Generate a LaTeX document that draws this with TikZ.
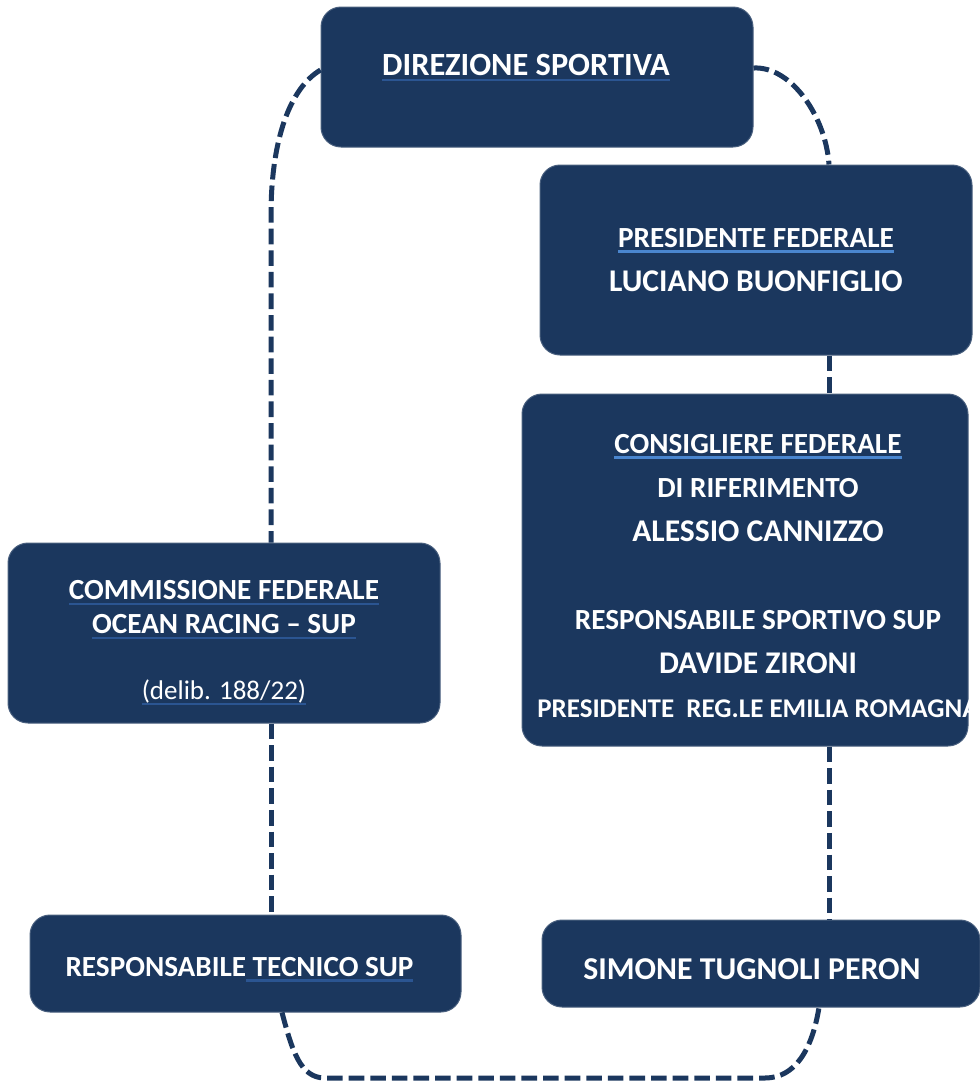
\documentclass[tikz,border=0pt]{standalone}
\usepackage{fontspec}
\setmainfont{Carlito}

\definecolor{navy}{HTML}{1B375E}
\definecolor{LineLight}{HTML}{4A86CF}
\definecolor{LineDark}{HTML}{2B5592}
\newlength\linelen
\newcommand\lightline[1]{\settowidth\linelen{#1}\rlap{\textcolor{LineLight}{\rule[-2.8pt]{\linelen}{1.3pt}}}#1}
\newcommand\darkline[1]{\settowidth\linelen{#1}\rlap{\textcolor{LineDark}{\rule[-2.8pt]{\linelen}{1.3pt}}}#1}
\newcommand\namesize{\fontsize{15.8}{22}\selectfont}

\begin{document}
\begin{tikzpicture}[x=0.5pt,y=-0.5pt,
  box/.style={rectangle,rounded corners=10pt,fill=navy,draw=navy!80!white,line width=0.5pt,
    text=white,align=center,inner sep=0pt,font=\bfseries\fontsize{14.6}{22}\selectfont},
  boxtext/.style={text=white,align=center,inner sep=0pt,font=\bfseries\fontsize{14.6}{22}\selectfont},
  link/.style={draw=navy,line width=2.5pt,dash pattern=on 7.8pt off 3pt}]
  \useasboundingbox (0,0) rectangle (980,1084);
  \node[box,minimum width=216pt,minimum height=70pt] (Direzione) at (537,77) {};
  \node[box,minimum width=216pt,minimum height=95pt] (Presidente) at (756,260)
    {\lightline{PRESIDENTE FEDERALE}\\ {\namesize LUCIANO BUONFIGLIO}};
  \node[box,minimum width=223pt,minimum height=176pt] (Consigliere) at (745,570) {};
  \node[box,minimum width=216pt,minimum height=90pt] (Commissione) at (224,633) {};
  \node[box,minimum width=215.5pt,minimum height=48.5pt] (Tecnico) at (245.5,963.5) {};
  \node[box,minimum width=219pt,minimum height=43.5pt] (Tugnoli) at (761,963.5) {};
  %
  \node[boxtext,font=\bfseries\fontsize{16.2}{22}\selectfont] (DirezioneText)
    at ([xshift=-5.5pt,yshift=4.5pt]Direzione.center) {\darkline{DIREZIONE SPORTIVA}};
  \node[boxtext] (ConsigliereText) at ([xshift=6.5pt,yshift=-3pt]Consigliere.center)
    {\lightline{CONSIGLIERE FEDERALE}\\ DI RIFERIMENTO\\ {\namesize ALESSIO CANNIZZO}\\[22pt]
     RESPONSABILE SPORTIVO SUP\\ {\namesize DAVIDE ZIRONI}\\
     {\fontsize{13.5}{22}\selectfont PRESIDENTE\ \ REG.LE EMILIA ROMAGNA}};
  \node[boxtext,font=\bfseries\fontsize{14.6}{17}\selectfont] (CommissioneText)
    at ([yshift=-5pt]Commissione.center)
    {\darkline{COMMISSIONE FEDERALE}\\ \darkline{OCEAN RACING – SUP}\\[16pt]
     {\mdseries\fontsize{13.5}{17}\selectfont\darkline{(delib. 188/22)}}};
  \node[boxtext] (TecnicoText) at ([xshift=-3pt,yshift=-3pt]Tecnico.center)
    {RESPONSABILE\darkline{ TECNICO SUP}};
  \node[boxtext,font=\bfseries\fontsize{15.9}{22}\selectfont] (TugnoliText)
    at ([xshift=-4.5pt,yshift=-3pt]Tugnoli.center) {SIMONE TUGNOLI PERON};
  %
  \coordinate (WestRail) at (271,0);
  \coordinate (EastRail) at (829,0);
  \coordinate (TecnicoDrop) at (282,0);
  \coordinate (TugnoliDrop) at (819,0);
  %
  \draw[link] ([yshift=3.5pt]Direzione.west) .. controls (290,88) and (271,140) .. (271,215)
    -- (WestRail |- Commissione.north);
  \draw[link] (WestRail |- Commissione.south) -- (WestRail |- Tecnico.north);
  \draw[link] ([yshift=4.5pt]Direzione.east) .. controls (792,66) and (826,118) .. (EastRail |- Presidente.north);
  \draw[link] (EastRail |- Presidente.south) -- (EastRail |- Consigliere.north);
  \draw[link] (EastRail |- Consigliere.south) -- (EastRail |- Tugnoli.north);
  \draw[link] (TecnicoDrop |- Tecnico.south) .. controls (292,1050) and (300,1078) .. (325,1078)
    -- (765,1078) .. controls (795,1078) and (812,1050) .. (TugnoliDrop |- Tugnoli.south);
\end{tikzpicture}
\end{document}
